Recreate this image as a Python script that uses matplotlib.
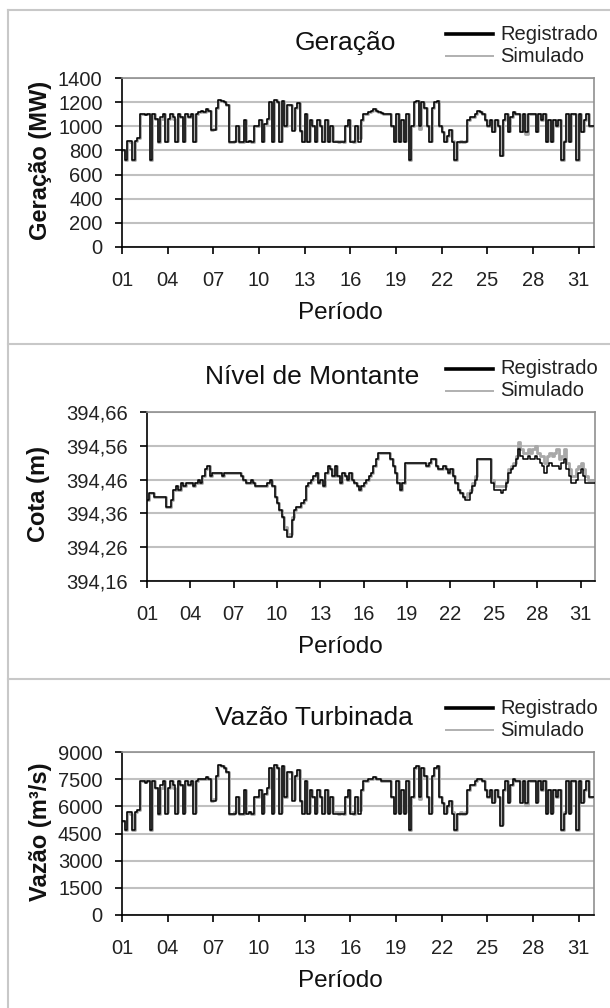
import numpy as np
import matplotlib
matplotlib.use('Agg')
import matplotlib.pyplot as plt
from matplotlib.lines import Line2D

plt.rcParams['font.family'] = ['Liberation Sans', 'DejaVu Sans']

# 4-hour steps, 6 values per day, days 01..31
geracao_reg = [
    800, 720, 880, 880, 720, 880,
    900, 1100, 1100, 1090, 1100, 720,
    1100, 1060, 870, 1080, 1100, 870,
    1060, 1100, 1080, 870, 1100, 1080,
    870, 1100, 1080, 1100, 870, 1100,
    1120, 1130, 1120, 1140, 1130, 970,
    970, 1150, 1220, 1210, 1200, 1180,
    870, 870, 870, 1000, 870, 870,
    1050, 870, 880, 870, 1000, 1000,
    1050, 870, 1020, 1060, 1200, 870,
    1220, 1200, 870, 1210, 1000, 1180,
    1180, 960, 1150, 1190, 960, 870,
    1100, 870, 1050, 1000, 870, 1050,
    1000, 870, 1050, 870, 1000, 870,
    870, 870, 870, 870, 1000, 1050,
    870, 870, 1000, 870, 1050, 1100,
    1100, 1120, 1130, 1140, 1130, 1120,
    1110, 1100, 1100, 1100, 1000, 870,
    1100, 870, 1050, 870, 1100, 720,
    1000, 1200, 1210, 1000, 1200, 1150,
    1000, 870, 1150, 1200, 1210, 1000,
    950, 870, 920, 970, 870, 720,
    870, 870, 870, 870, 1050, 1080,
    1080, 1100, 1130, 1120, 1100, 1050,
    1000, 1050, 950, 1050, 1000, 750,
    1050, 1100, 950, 1080, 1120, 1100,
    1100, 950, 1100, 950, 1100, 1100,
    1100, 950, 1100, 1050, 1100, 870,
    1050, 870, 1050, 1000, 1050, 720,
    870, 1100, 870, 1100, 1100, 720,
    1100, 950, 1050, 1100, 1000, 1000,
]
geracao_sim = [
    800, 720, 880, 870, 720, 880,
    900, 1100, 1100, 1100, 1100, 720,
    1100, 1060, 870, 1060, 1100, 880,
    1060, 1100, 1060, 880, 1100, 1080,
    880, 1100, 1080, 1100, 880, 1100,
    1120, 1130, 1120, 1140, 1130, 970,
    980, 1150, 1220, 1210, 1200, 1180,
    870, 870, 880, 1000, 870, 870,
    1050, 880, 880, 870, 1000, 1000,
    1050, 880, 1020, 1060, 1200, 880,
    1220, 1200, 880, 1210, 1000, 1180,
    1180, 980, 1150, 1190, 960, 880,
    1100, 880, 1050, 1000, 880, 1050,
    1000, 880, 1050, 880, 1000, 880,
    880, 870, 880, 870, 1000, 1050,
    880, 870, 1000, 900, 1050, 1100,
    1100, 1120, 1130, 1140, 1130, 1120,
    1110, 1100, 1100, 1100, 1000, 880,
    1100, 880, 1050, 880, 1100, 720,
    1000, 1200, 1210, 980, 1200, 1150,
    1000, 880, 1150, 1200, 1210, 1000,
    950, 880, 920, 970, 880, 720,
    870, 880, 870, 880, 1050, 1080,
    1080, 1100, 1130, 1120, 1100, 1050,
    1000, 1050, 960, 1050, 1000, 760,
    1050, 1100, 960, 1080, 1120, 1100,
    1100, 960, 1100, 940, 1100, 1100,
    1100, 960, 1100, 1050, 1100, 880,
    1050, 880, 1050, 1000, 1050, 720,
    880, 1100, 880, 1100, 1100, 720,
    1100, 960, 1050, 1100, 1000, 1000,
]

nivel_reg = [
    394.40, 394.42, 394.42, 394.41, 394.41, 394.41,
    394.41, 394.41, 394.38, 394.38, 394.40, 394.43,
    394.44, 394.43, 394.45, 394.44, 394.45, 394.45,
    394.45, 394.44, 394.45, 394.46, 394.45, 394.47,
    394.49, 394.50, 394.47, 394.48, 394.48, 394.48,
    394.48, 394.47, 394.48, 394.48, 394.48, 394.48,
    394.48, 394.48, 394.48, 394.47, 394.46, 394.45,
    394.45, 394.46, 394.45, 394.44, 394.44, 394.44,
    394.44, 394.44, 394.45, 394.46, 394.44, 394.41,
    394.39, 394.37, 394.35, 394.31, 394.29, 394.29,
    394.34, 394.37, 394.38, 394.38, 394.39, 394.40,
    394.44, 394.45, 394.46, 394.47, 394.48, 394.45,
    394.46, 394.44, 394.48, 394.50, 394.49, 394.47,
    394.50, 394.47, 394.45, 394.48, 394.47, 394.46,
    394.48, 394.46, 394.45, 394.44, 394.43, 394.44,
    394.45, 394.46, 394.47, 394.48, 394.50, 394.52,
    394.54, 394.54, 394.54, 394.54, 394.54, 394.52,
    394.50, 394.48, 394.45, 394.43, 394.45, 394.51,
    394.51, 394.51, 394.51, 394.51, 394.51, 394.51,
    394.51, 394.51, 394.50, 394.51, 394.52, 394.52,
    394.50, 394.49, 394.49, 394.50, 394.49, 394.48,
    394.49, 394.47, 394.45, 394.43, 394.42, 394.41,
    394.40, 394.40, 394.42, 394.44, 394.46, 394.52,
    394.52, 394.52, 394.52, 394.52, 394.52, 394.45,
    394.43, 394.43, 394.43, 394.42, 394.43, 394.45,
    394.48, 394.49, 394.50, 394.52, 394.55, 394.53,
    394.52, 394.52, 394.53, 394.52, 394.52, 394.53,
    394.52, 394.51, 394.50, 394.48, 394.50, 394.51,
    394.50, 394.50, 394.50, 394.49, 394.51, 394.52,
    394.49, 394.47, 394.45, 394.45, 394.46, 394.48,
    394.49, 394.47, 394.45, 394.45, 394.45, 394.45,
]
nivel_sim = [
    394.40, 394.42, 394.42, 394.41, 394.41, 394.41,
    394.41, 394.41, 394.38, 394.38, 394.40, 394.43,
    394.44, 394.43, 394.45, 394.44, 394.45, 394.45,
    394.45, 394.44, 394.45, 394.46, 394.45, 394.47,
    394.49, 394.50, 394.47, 394.48, 394.48, 394.48,
    394.48, 394.47, 394.48, 394.48, 394.48, 394.48,
    394.48, 394.48, 394.48, 394.47, 394.46, 394.45,
    394.45, 394.46, 394.45, 394.44, 394.44, 394.44,
    394.44, 394.44, 394.45, 394.46, 394.44, 394.41,
    394.39, 394.37, 394.35, 394.32, 394.30, 394.30,
    394.35, 394.37, 394.38, 394.38, 394.39, 394.40,
    394.44, 394.45, 394.46, 394.47, 394.48, 394.45,
    394.46, 394.44, 394.48, 394.50, 394.49, 394.47,
    394.50, 394.47, 394.45, 394.48, 394.47, 394.46,
    394.48, 394.46, 394.45, 394.44, 394.43, 394.44,
    394.45, 394.46, 394.47, 394.48, 394.50, 394.52,
    394.54, 394.54, 394.54, 394.54, 394.54, 394.52,
    394.50, 394.48, 394.45, 394.43, 394.45, 394.51,
    394.51, 394.51, 394.51, 394.51, 394.51, 394.51,
    394.51, 394.51, 394.50, 394.51, 394.52, 394.52,
    394.50, 394.49, 394.49, 394.50, 394.49, 394.48,
    394.49, 394.47, 394.45, 394.43, 394.42, 394.41,
    394.41, 394.42, 394.43, 394.45, 394.47, 394.52,
    394.52, 394.52, 394.52, 394.52, 394.52, 394.46,
    394.44, 394.44, 394.44, 394.44, 394.44, 394.46,
    394.49, 394.50, 394.51, 394.53, 394.57, 394.55,
    394.54, 394.54, 394.55, 394.54, 394.55, 394.56,
    394.54, 394.53, 394.53, 394.51, 394.53, 394.54,
    394.53, 394.54, 394.55, 394.52, 394.53, 394.55,
    394.51, 394.49, 394.47, 394.47, 394.49, 394.50,
    394.51, 394.49, 394.47, 394.46, 394.46, 394.46,
]

vazao_reg = [
    5200, 4700, 5700, 5700, 4700, 5700,
    5800, 7400, 7400, 7300, 7400, 4700,
    7400, 7000, 5600, 7200, 7400, 5600,
    7000, 7400, 7200, 5600, 7400, 7200,
    5600, 7400, 7200, 7400, 5600, 7400,
    7500, 7500, 7500, 7600, 7500, 6300,
    6300, 7700, 8300, 8200, 8100, 7900,
    5600, 5600, 5600, 6500, 5600, 5600,
    6900, 5600, 5700, 5600, 6500, 6500,
    6900, 5600, 6700, 7000, 8100, 5600,
    8300, 8100, 5600, 8200, 6500, 7900,
    7900, 6300, 7700, 8000, 6300, 5600,
    7400, 5600, 6900, 6500, 5600, 6900,
    6500, 5600, 6900, 5600, 6500, 5600,
    5600, 5600, 5600, 5600, 6500, 6900,
    5600, 5600, 6500, 5600, 6900, 7400,
    7400, 7500, 7500, 7600, 7500, 7500,
    7400, 7400, 7400, 7400, 6500, 5600,
    7400, 5600, 6900, 5600, 7400, 4700,
    6500, 8100, 8200, 6500, 8100, 7700,
    6500, 5600, 7700, 8100, 8200, 6500,
    6200, 5600, 6000, 6300, 5600, 4700,
    5600, 5600, 5600, 5600, 6900, 7200,
    7200, 7400, 7500, 7500, 7400, 6900,
    6500, 6900, 6200, 6900, 6500, 4900,
    6900, 7400, 6200, 7200, 7500, 7400,
    7400, 6200, 7400, 6200, 7400, 7400,
    7400, 6200, 7400, 6900, 7400, 5600,
    6900, 5600, 6900, 6500, 6900, 4700,
    5600, 7400, 5600, 7400, 7400, 4700,
    7400, 6200, 6900, 7400, 6500, 6500,
]
vazao_sim = [
    5200, 4700, 5700, 5600, 4700, 5700,
    5800, 7400, 7400, 7400, 7400, 4700,
    7400, 7000, 5600, 7000, 7400, 5700,
    7000, 7400, 7000, 5700, 7400, 7200,
    5700, 7400, 7200, 7400, 5700, 7400,
    7500, 7500, 7500, 7600, 7500, 6300,
    6400, 7700, 8300, 8200, 8100, 7900,
    5600, 5600, 5700, 6500, 5600, 5600,
    6900, 5700, 5700, 5600, 6500, 6500,
    6900, 5700, 6700, 7000, 8100, 5700,
    8300, 8100, 5700, 8200, 6500, 7900,
    7900, 6400, 7700, 8000, 6300, 5700,
    7400, 5700, 6900, 6500, 5700, 6900,
    6500, 5700, 6900, 5700, 6500, 5700,
    5700, 5600, 5700, 5600, 6500, 6900,
    5700, 5600, 6500, 5800, 6900, 7400,
    7400, 7500, 7500, 7600, 7500, 7500,
    7400, 7400, 7400, 7400, 6500, 5700,
    7400, 5700, 6900, 5700, 7400, 4700,
    6500, 8100, 8200, 6400, 8100, 7700,
    6500, 5700, 7700, 8100, 8200, 6500,
    6200, 5700, 6000, 6300, 5700, 4700,
    5600, 5700, 5600, 5700, 6900, 7200,
    7200, 7400, 7500, 7500, 7400, 6900,
    6500, 6900, 6300, 6900, 6500, 5000,
    6900, 7400, 6300, 7200, 7500, 7400,
    7400, 6300, 7400, 6100, 7400, 7400,
    7400, 6300, 7400, 6900, 7400, 5700,
    6900, 5700, 6900, 6500, 6900, 4700,
    5700, 7400, 5700, 7400, 7400, 4700,
    7400, 6300, 6900, 7400, 6500, 6500,
]

dias = [1, 4, 7, 10, 13, 16, 19, 22, 25, 28, 31]
dias_labels = ['01', '04', '07', '10', '13', '16', '19', '22', '25', '28', '31']

W, H = 610, 1008
fig = plt.figure(figsize=(W / 100, H / 100), dpi=100)


def fx(px):
    return px / W


def fy(py):
    return 1 - py / H


def panel(left, right, ax_top, ax_bot, reg, sim, yticks, ylabels, ylim,
          title, title_x, title_y, ylabel, ylabel_x, leg_y, xlabel_y):
    ax = fig.add_axes([fx(left), fy(ax_bot), fx(right) - fx(left), (ax_bot - ax_top) / H])
    x = 1 + np.arange(len(reg) + 1) / 6.0
    ax.plot(x, np.append(sim, sim[-1]), drawstyle='steps-post', color='#a8a8a8', lw=2.0, zorder=2)
    ax.plot(x, np.append(reg, reg[-1]), drawstyle='steps-post', color='black', lw=1.1, zorder=3)
    ax.set_xlim(1, 32)
    ax.set_ylim(*ylim)
    ax.set_xticks(dias)
    ax.set_xticklabels(dias_labels)
    ax.set_yticks(yticks)
    ax.set_yticklabels(ylabels)
    ax.yaxis.grid(True, color='#c0c0c0', lw=1.5)
    ax.set_axisbelow(True)
    for s in ['top', 'right']:
        ax.spines[s].set_color('#909090')
        ax.spines[s].set_linewidth(1.2)
    for s in ['left', 'bottom']:
        ax.spines[s].set_color('black')
        ax.spines[s].set_linewidth(1.2)
    ax.tick_params(axis='x', direction='out', length=5, width=1.2, pad=12,
                   labelsize=14.5, labelcolor='#222222')
    ax.tick_params(axis='y', direction='out', length=5, width=1.2, pad=9,
                   labelsize=14.5, labelcolor='#222222')
    fig.text(fx(title_x), fy(title_y), title, ha='center', va='center', fontsize=19, color='#111111')
    fig.text(fx(ylabel_x), fy((ax_top + ax_bot) / 2 - 2), ylabel, ha='center', va='center',
             rotation=90, fontsize=17, fontweight='bold', color='#111111')
    fig.text(fx(340), fy(xlabel_y), 'Período', ha='center', va='center', fontsize=17.5, color='#111111')
    # legend
    fig.add_artist(Line2D([fx(446), fx(493)], [fy(leg_y), fy(leg_y)], color='black', lw=2.6))
    fig.add_artist(Line2D([fx(446), fx(493)], [fy(leg_y + 22), fy(leg_y + 22)], color='#b0b0b0', lw=1.4))
    fig.text(fx(500), fy(leg_y), 'Registrado', ha='left', va='center', fontsize=14.5, color='#222222')
    fig.text(fx(500), fy(leg_y + 22), 'Simulado', ha='left', va='center', fontsize=14.5, color='#222222')
    return ax


panel(122, 594, 78, 247, geracao_reg, geracao_sim,
      [0, 200, 400, 600, 800, 1000, 1200, 1400],
      ['0', '200', '400', '600', '800', '1000', '1200', '1400'], (0, 1400),
      'Geração', 345, 43, 'Geração (MW)', 41, 34, 313)

niv_ticks = [394.16, 394.26, 394.36, 394.46, 394.56, 394.66]
panel(147, 595, 412, 581, nivel_reg, nivel_sim, niv_ticks,
      ['394,16', '394,26', '394,36', '394,46', '394,56', '394,66'], (394.16, 394.66),
      'Nível de Montante', 312, 377, 'Cota (m)', 39, 369, 647)

panel(122, 594, 752, 915, vazao_reg, vazao_sim,
      [0, 1500, 3000, 4500, 6000, 7500, 9000],
      ['0', '1500', '3000', '4500', '6000', '7500', '9000'], (0, 9000),
      'Vazão Turbinada', 314, 718, 'Vazão (m³/s)', 40, 708, 981)

# panel frames
frame = '#c8c8c8'
for yy in [10, 344, 679]:
    fig.add_artist(Line2D([fx(8), 1.0], [fy(yy), fy(yy)], color=frame, lw=1.5))
fig.add_artist(Line2D([fx(8), fx(8)], [fy(10), 0.0], color=frame, lw=1.5))

fig.savefig('out.png', dpi=100)
